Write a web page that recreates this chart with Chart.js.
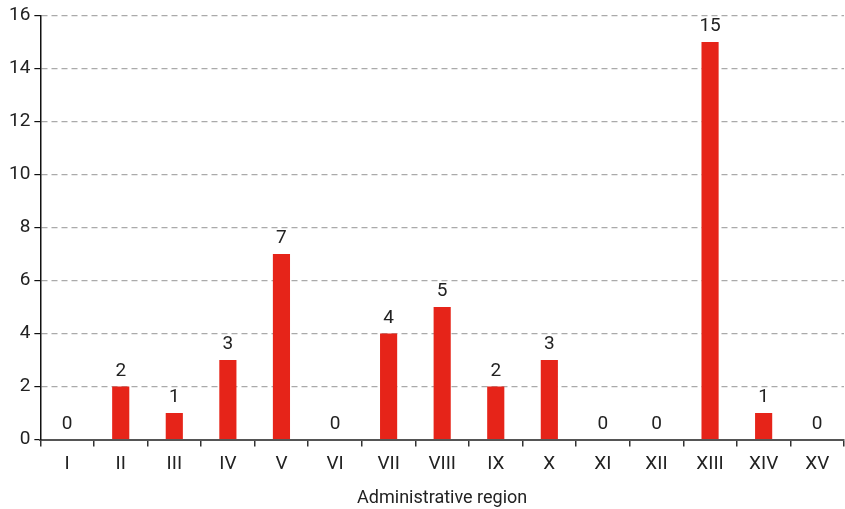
<!DOCTYPE html>
<html>
<head>
<meta charset="utf-8">
<script src="https://cdn.jsdelivr.net/npm/chart.js@4"></script>
<style>
  html, body { margin:0; padding:0; background:#fff; }
  #wrap { position:relative; width:845px; height:509px; }
</style>
</head>
<body>
<div id="wrap"><canvas id="chart"></canvas></div>
<script>
// ── data ──
const regions   = ['I','II','III','IV','V','VI','VII','VIII','IX','X','XI','XII','XIII','XIV','XV'];
const counts    = [0, 2, 1, 3, 7, 0, 4, 5, 2, 3, 0, 0, 15, 1, 0];
const yTicks    = [0, 2, 4, 6, 8, 10, 12, 14, 16];
const xTitle    = 'Administrative region';

const FONT = "'Roboto', 'Liberation Sans', sans-serif";

// value labels above bars (zeros too)
const valueLabels = {
  id: 'valueLabels',
  afterDatasetsDraw(chart) {
    const ctx = chart.ctx;
    const meta = chart.getDatasetMeta(0);
    ctx.save();
    ctx.font = '19px ' + FONT;
    ctx.fillStyle = '#222';
    ctx.textAlign = 'center';
    ctx.textBaseline = 'bottom';
    meta.data.forEach((bar, i) => {
      ctx.fillText(String(counts[i]), bar.x, bar.y - 6);
    });
    ctx.restore();
  }
};

new Chart(document.getElementById('chart'), {
  type: 'bar',
  data: {
    labels: regions,
    datasets: [{ data: counts, backgroundColor: '#E62419', categoryPercentage: 1, barPercentage: 0.32 }]
  },
  options: {
    responsive: true, maintainAspectRatio: false, animation: false,
    layout: { padding: { top: 8, right: 1, left: 5, bottom: 0 } },
    plugins: { legend: { display: false }, tooltip: { enabled: false } },
    scales: {
      x: {
        grid: { display: true, offset: true, drawOnChartArea: false, drawTicks: true, tickLength: 7, color: '#333', lineWidth: 1.5 },
        border: { display: true, color: '#555', width: 2 },
        ticks: { color: '#222', font: { family: FONT, size: 19 }, padding: 6 },
        title: { display: true, text: xTitle, color: '#222', font: { family: FONT, size: 18 }, padding: { top: 6, bottom: 0 } }
      },
      y: {
        min: 0, max: 16,
        afterBuildTicks: axis => { axis.ticks = yTicks.map(v => ({ value: v })); },
        grid: { color: '#aaa', lineWidth: 1.2, tickLength: 6, tickColor: '#111', tickBorderDash: [] },
        border: { display: true, color: '#111', width: 1.5, dash: [6, 4] },
        ticks: { color: '#222', font: { family: FONT, size: 19 }, padding: 4 }
      }
    }
  },
  plugins: [valueLabels]
});
</script>
</body>
</html>
